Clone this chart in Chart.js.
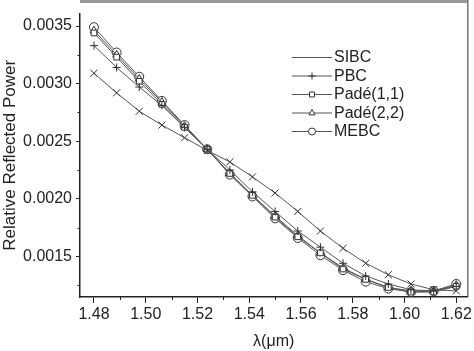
<!DOCTYPE html>
<html>
<head>
<meta charset="utf-8">
<script src="https://cdn.jsdelivr.net/npm/chart.js@4"></script>
<style>
  body { margin: 0; background: #fff; }
  #wrap { width: 474px; height: 351px; }
</style>
</head>
<body>
<div id="wrap"><canvas id="myChart"></canvas></div>
<script>
'use strict';

// wavelength samples (um)
const wavelengths = [1.48, 1.48875, 1.4975, 1.50625, 1.515, 1.52375, 1.5325, 1.54125, 1.55,
    1.55875, 1.5675, 1.57625, 1.585, 1.59375, 1.6025, 1.61125, 1.62];

const seriesNames = ['SIBC', 'PBC', 'Padé(1,1)', 'Padé(2,2)', 'MEBC'];

const sibc = [0.00309, 0.00292, 0.00276, 0.00264, 0.00253, 0.00242, 0.00232, 0.00219, 0.00205,
    0.00189, 0.00172, 0.00157, 0.00144, 0.00134, 0.00126, 0.00121, 0.00120];
const pbc = [0.00333, 0.00314, 0.00297, 0.00281, 0.00262, 0.00243, 0.00225, 0.00206, 0.00189,
    0.00172, 0.00158, 0.00144, 0.00133, 0.00126, 0.00121, 0.00120, 0.00124];
const pade11 = [0.00344, 0.00323, 0.00302, 0.00282, 0.00262, 0.00243, 0.00222, 0.00203, 0.00184,
    0.00167, 0.00153, 0.00139, 0.00130, 0.00123, 0.00119, 0.00119, 0.00124];
const pade22 = [0.00346, 0.00325, 0.00304, 0.00284, 0.00263, 0.00243, 0.00222, 0.00203, 0.00185,
    0.00168, 0.00153, 0.00140, 0.00130, 0.00123, 0.00120, 0.00120, 0.00125];
const mebc = [0.00349, 0.00327, 0.00306, 0.00285, 0.00264, 0.00243, 0.00221, 0.00202, 0.00183,
    0.00166, 0.00151, 0.00138, 0.00128, 0.00122, 0.00119, 0.00120, 0.00126];

const xTicks = [1.48, 1.50, 1.52, 1.54, 1.56, 1.58, 1.60, 1.62];
const yTicks = [0.0015, 0.0020, 0.0025, 0.0030, 0.0035];

const FONT = '"Liberation Sans", Arial, sans-serif';
const INK = '#222';

// marker style per series; legend shows no marker for SIBC
const markers = [
    { style: 'crossRot', r: 5, legend: false },
    { style: 'cross', r: 4, legend: true },
    { style: 'rect', r: 4, legend: true },
    { style: 'triangle', r: 4.5, legend: true },
    { style: 'circle', r: 4.5, legend: true }
];
const allSeries = [sibc, pbc, pade11, pade22, mebc];

function toPoints(values) {
    return values.map((v, i) => ({ x: wavelengths[i], y: v }));
}

const datasets = allSeries.map((values, i) => ({
    label: seriesNames[i],
    data: toPoints(values),
    showLine: true,
    borderColor: '#555',
    borderWidth: 1,
    pointStyle: markers[i].style,
    pointRadius: markers[i].r,
    pointBorderColor: '#333',
    pointBorderWidth: 1,
    pointBackgroundColor: '#fff'
}));

// minor ticks, frame and legend
const framePlugin = {
    id: 'frame',
    afterDraw(chart) {
        const ctx = chart.ctx;
        const a = chart.chartArea;
        const xs = chart.scales.x;
        const ys = chart.scales.y;
        ctx.save();
        ctx.strokeStyle = INK;
        ctx.lineWidth = 1;
        ctx.beginPath();
        for (let k = 0; k < xTicks.length - 1; k++) {
            const px = Math.round(xs.getPixelForValue((xTicks[k] + xTicks[k + 1]) / 2)) + 0.5;
            ctx.moveTo(px, a.bottom);
            ctx.lineTo(px, a.bottom + 3);
        }
        for (let k = 0; k < yTicks.length; k++) {
            const py = Math.round(ys.getPixelForValue(yTicks[k] - 0.00025)) + 0.5;
            ctx.moveTo(a.left, py);
            ctx.lineTo(a.left - 2.5, py);
        }
        ctx.stroke();

        // top and right border
        ctx.strokeStyle = '#9a9a9a';
        ctx.lineWidth = 3;
        ctx.beginPath();
        ctx.moveTo(a.left, 1.5);
        ctx.lineTo(a.right, 1.5);
        ctx.stroke();
        ctx.strokeStyle = '#333';
        ctx.lineWidth = 1;
        ctx.beginPath();
        ctx.moveTo(a.right + 0.5, 0);
        ctx.lineTo(a.right + 0.5, a.bottom);
        ctx.stroke();

        // legend
        const rowY = [57, 75.5, 94, 112.5, 131];
        ctx.font = '16px ' + FONT;
        ctx.textBaseline = 'middle';
        datasets.forEach((ds, i) => {
            const y = rowY[i];
            ctx.strokeStyle = '#555';
            ctx.lineWidth = 1;
            ctx.beginPath();
            ctx.moveTo(292, y + 0.5);
            ctx.lineTo(332, y + 0.5);
            ctx.stroke();
            if (markers[i].legend) {
                ctx.fillStyle = '#fff';
                ctx.strokeStyle = '#333';
                Chart.helpers.drawPoint(ctx, {
                    pointStyle: markers[i].style,
                    radius: 3.5,
                    borderWidth: 1,
                    rotation: 0
                }, 312, y + 0.5);
            }
            ctx.fillStyle = INK;
            ctx.fillText(ds.label, 334, y + 1);
        });
        ctx.restore();
    }
};

const chartObj = new Chart(document.getElementById('myChart'), {
    type: 'scatter',
    data: { datasets: datasets },
    options: {
        responsive: true,
        maintainAspectRatio: false,
        animation: false,
        layout: { padding: { top: 1, right: 5, left: 0, bottom: 0 } },
        plugins: {
            legend: { display: false },
            tooltip: { enabled: false }
        },
        scales: {
            x: {
                type: 'linear',
                min: 1.4746,
                max: 1.6243,
                afterBuildTicks: (scale) => { scale.ticks = xTicks.map(v => ({ value: v })); },
                afterFit: (scale) => { scale.height = 54; },
                grid: { display: true, drawOnChartArea: false, drawTicks: true, tickLength: 6, color: INK },
                border: { display: true, color: INK, width: 1.5 },
                ticks: {
                    font: { family: FONT, size: 16 },
                    color: INK,
                    padding: 2,
                    maxRotation: 0,
                    callback: (v) => v.toFixed(2)
                },
                title: {
                    display: true,
                    text: 'λ(μm)',
                    font: { family: FONT, size: 16 },
                    color: INK,
                    padding: { top: 0, bottom: 0 }
                }
            },
            y: {
                type: 'linear',
                min: 0.001147,
                max: 0.003608,
                afterBuildTicks: (scale) => { scale.ticks = yTicks.map(v => ({ value: v })); },
                afterFit: (scale) => { scale.width = 80; },
                grid: { display: true, drawOnChartArea: false, drawTicks: true, tickLength: 4, color: INK },
                border: { display: true, color: INK, width: 1.5 },
                ticks: {
                    font: { family: FONT, size: 16 },
                    color: INK,
                    padding: 4,
                    callback: (v) => v.toFixed(4)
                },
                title: {
                    display: true,
                    text: 'Relative Reflected Power',
                    font: { family: FONT, size: 17 },
                    color: INK,
                    padding: { top: 0, bottom: 0 }
                }
            }
        }
    },
    plugins: [framePlugin]
});
</script>
</body>
</html>
